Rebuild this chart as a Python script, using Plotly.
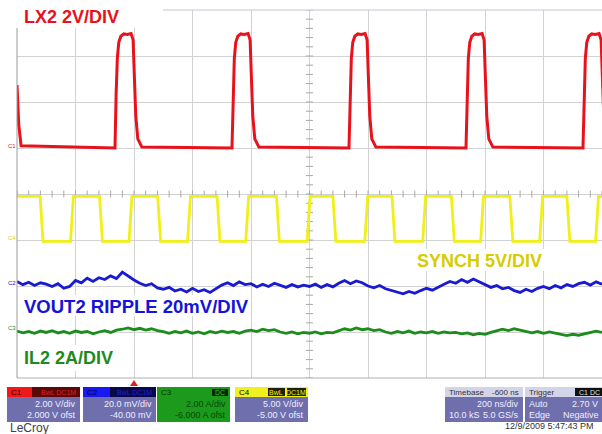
import plotly.graph_objects as go

# ---------------- data (time in ns, 200 ns/div; vertical in screen divisions, 8 div) -------------
t_range = [0, 2000]

# C1 : LX2 switching node (2 V/div)
lx2_start_t = [0, 6, 14]
lx2_start_v = [6.37, 5.5, 5.05]
lx2_rise_ns = [335, 735, 1135, 1535, 1935]
lx2_shape_dt = [0, 4, 8, 13, 20, 30, 42, 55, 62, 66, 71, 78, 92]
lx2_shape_v = [5.0, 6.2, 6.95, 7.3, 7.43, 7.48, 7.47, 7.49, 7.35, 6.6, 5.7, 5.2, 5.02]

# C4 : SYNCH (5 V/div)
synch_high, synch_low = 3.95, 2.97
synch_fall_ns = [79, 282, 481, 684, 887, 1080, 1282, 1485, 1685, 1880]
synch_rise_ns = [183, 383, 583, 782, 992, 1189, 1387, 1585, 1787, 1978]
synch_edge_ns = 10

# C2 : VOUT2 ripple (20 mV/div), sampled every 20 ns
vout_dt_ns = 20
vout_v = [2.10, 2.03, 2.08, 2.01, 2.07, 2.04, 1.99, 2.05, 1.95, 1.99,
          2.12, 2.07, 2.17, 2.10, 2.18, 2.14, 2.22, 2.16, 2.30, 2.21,
          2.13, 2.06, 2.01, 2.05, 1.96, 1.93, 1.97, 1.89, 1.93, 1.87,
          1.95, 1.88, 1.92, 1.86, 1.94, 2.02, 2.07, 2.01, 2.09, 2.03,
          2.05, 1.98, 2.04, 1.99, 2.06, 2.01, 1.97, 2.03, 1.98, 2.02,
          1.99, 2.04, 1.97, 2.03, 1.98, 2.06, 2.12, 2.05, 2.11, 2.07,
          2.00, 1.96, 2.01, 1.94, 1.90, 1.86, 1.83, 1.88, 1.84, 1.90,
          1.95, 1.91, 1.98, 2.04, 2.10, 2.06, 2.14, 2.08, 2.15, 2.09,
          2.02, 1.97, 2.01, 1.94, 1.97, 1.90, 1.86, 1.93, 1.88, 1.95,
          1.99, 1.94, 2.01, 1.96, 2.03, 1.99, 2.05, 2.08, 2.02, 2.09, 2.04]

# C3 : IL2 inductor current (2 A/div), sampled every 20 ns
il2_dt_ns = 20
il2_v = [1.02, 0.98, 1.01, 0.97, 1.02, 0.99, 1.03, 0.98, 1.01, 0.97,
         1.02, 0.99, 1.01, 0.96, 1.00, 1.03, 0.99, 1.04, 1.06, 1.09,
         1.05, 1.08, 1.04, 1.07, 1.03, 1.01, 0.97, 1.01, 0.98, 1.02,
         0.97, 1.00, 0.96, 1.01, 0.98, 1.02, 0.99, 1.01, 0.97, 1.02,
         1.04, 1.01, 1.06, 1.03, 1.05, 1.00, 0.97, 1.00, 0.96, 0.99,
         0.97, 1.00, 0.96, 0.99, 0.98, 1.03, 1.07, 1.04, 1.09, 1.05,
         1.07, 1.03, 1.05, 1.00, 0.97, 1.01, 0.98, 1.02, 0.97, 1.00,
         0.98, 1.01, 0.97, 1.00, 0.98, 0.99, 0.96, 0.98, 0.94, 0.97,
         0.95, 0.99, 1.03, 1.06, 1.03, 1.07, 1.04, 1.01, 0.98, 1.01,
         0.97, 1.00, 0.98, 0.95, 0.92, 0.95, 0.93, 0.96, 0.99, 1.02, 0.99]

# ---------------- build traces ----------------
red_t, red_v = list(lx2_start_t), list(lx2_start_v)
for r in lx2_rise_ns:
    for dt, v in zip(lx2_shape_dt, lx2_shape_v):
        red_t.append(r + dt)
        red_v.append(v)

syn_t, syn_v = [0], [synch_high]
for f, r in zip(synch_fall_ns, synch_rise_ns):
    syn_t += [f, f + synch_edge_ns, r, r + synch_edge_ns]
    syn_v += [synch_high, synch_low, synch_low, synch_high]
syn_t.append(2000)
syn_v.append(synch_high)

vout_t = [i * vout_dt_ns for i in range(len(vout_v))]
il2_t = [i * il2_dt_ns for i in range(len(il2_v))]

RED, YEL, BLU, GRN = "#e8121c", "#f0f018", "#1a1ad0", "#1c8c1c"

fig = go.Figure()
# centre-line minor ticks
fig.add_trace(go.Scatter(x=[i * 40 for i in range(51)], y=[4] * 51, mode="markers",
                         marker=dict(symbol="line-ns-open", size=5, color="#a8a8a8", line=dict(width=1)),
                         hoverinfo="skip", showlegend=False))
fig.add_trace(go.Scatter(x=[1000] * 41, y=[i * 0.2 for i in range(41)], mode="markers",
                         marker=dict(symbol="line-ew-open", size=5, color="#a8a8a8", line=dict(width=1)),
                         hoverinfo="skip", showlegend=False))
fig.add_trace(go.Scatter(x=il2_t, y=il2_v, mode="lines", line=dict(color=GRN, width=2.8), showlegend=False))
fig.add_trace(go.Scatter(x=vout_t, y=vout_v, mode="lines", line=dict(color=BLU, width=2.8), showlegend=False))
fig.add_trace(go.Scatter(x=syn_t, y=syn_v, mode="lines", line=dict(color=YEL, width=2.8), showlegend=False))
fig.add_trace(go.Scatter(x=red_t, y=red_v, mode="lines", line=dict(color=RED, width=3), showlegend=False))

# ---------------- layout helpers (pixel -> paper) ----------------
L, R, T, B = 17, 602, 10, 378


def px(x):
    return (x - L) / (R - L)


def py(y):
    return (B - y) / (B - T)


shapes = []


def rect(x0, y0, x1, y1, color, line=None):
    shapes.append(dict(type="rect", xref="paper", yref="paper", x0=px(x0), x1=px(x1),
                       y0=py(y1), y1=py(y0), fillcolor=color,
                       line=dict(width=0 if line is None else 1, color=line or color), layer="above"))


# plot frame
shapes.append(dict(type="line", xref="paper", yref="paper", x0=0, x1=1, y0=1, y1=1,
                   line=dict(color="#c4c4d4", width=1), layer="above"))
shapes.append(dict(type="line", xref="paper", yref="paper", x0=0, x1=0, y0=0, y1=1,
                   line=dict(color="#9a9a9a", width=1), layer="above"))
shapes.append(dict(type="line", xref="paper", yref="paper", x0=0, x1=1, y0=0, y1=0,
                   line=dict(color="#b0b0b0", width=1), layer="above"))

# white label backgrounds
rect(0, 0, 163, 28, "white")
rect(410, 249, 547, 271, "white")
rect(18, 295, 250, 316, "white")
rect(18, 345, 122, 371, "white")

PURPLE = "#6f6fae"
ann = []


def text(x, y, s, color, size=9, xanchor="left", bold=False, family="Liberation Sans, Arial"):
    ann.append(dict(xref="paper", yref="paper", x=px(x), y=py(y), text=("<b>%s</b>" % s) if bold else s,
                    showarrow=False, xanchor=xanchor, yanchor="middle",
                    font=dict(color=color, size=size, family=family)))


# channel descriptor boxes
# C1
rect(7, 387, 80, 422, PURPLE)
rect(7, 387, 32, 397, "#f01818")
rect(32, 387, 80, 397, "#5a0808")
text(9, 392, "C1", "#300000", 8)
text(78, 392, "BwL DC1M", "#e02020", 7, "right")
text(78, 404, "2.00 V/div", "#eeeeff", 9, "right")
text(78, 415, "2.000 V ofst", "#eeeeff", 9, "right")
# C2
rect(83, 387, 156, 422, PURPLE)
rect(83, 387, 110, 397, "#1818f0")
rect(110, 387, 156, 397, "#08084a")
text(85, 392, "C2", "#000030", 8)
text(154, 392, "BwL DC1M", "#2020d0", 7, "right")
text(154, 404, "20.0 mV/div", "#eeeeff", 9, "right")
text(154, 415, "-40.00 mV", "#eeeeff", 9, "right")
# C3
rect(157, 387, 230, 422, "#1c9a1c")
rect(212, 389, 228, 396, "#062a06")
text(159, 392, "C3", "#063006", 8)
text(227, 392, "DC", "#30c030", 7, "right")
text(228, 404, "2.00 A/div", "#084808", 9, "right")
text(228, 415, "-6.000 A ofst", "#084808", 9, "right")
# C4
rect(235, 387, 308, 422, PURPLE)
rect(235, 387, 308, 397, "#f0f020")
rect(268, 388, 285, 396, "#202008")
rect(287, 388, 306, 396, "#202008")
text(237, 392, "C4", "#000000", 8)
text(276, 392, "BwL", "#f0f020", 7, "center")
text(296, 392, "DC1M", "#f0f020", 7, "center")
text(306, 404, "5.00 V/div", "#eeeeff", 9, "right")
text(306, 415, "-5.00 V ofst", "#eeeeff", 9, "right")
# Timebase
rect(445, 387, 523, 422, PURPLE)
rect(445, 387, 523, 397, "#d4d4e8")
text(447, 392, "Timebase", "#303040", 8)
text(521, 392, "-600 ns", "#303040", 8, "right")
text(521, 404, "200 ns/div", "#eeeeff", 9, "right")
text(447, 415, "10.0 kS", "#eeeeff", 9)
text(521, 415, "5.0 GS/s", "#eeeeff", 9, "right")
# Trigger
rect(525, 387, 606, 422, PURPLE)
rect(525, 387, 606, 397, "#d4d4e8")
rect(575, 388, 604, 396, "#101010")
text(527, 392, "Trigger", "#303040", 8)
text(577, 392, "C1 DC", "#e0e0e0", 7)
text(527, 404, "Auto", "#eeeeff", 9)
text(600, 404, "2.70 V", "#eeeeff", 9, "right")
text(527, 415, "Edge", "#eeeeff", 9)
text(601, 415, "Negative", "#eeeeff", 9, "right")

# trigger position marker
shapes.append(dict(type="path", xref="paper", yref="paper",
                   path="M %f,%f L %f,%f L %f,%f Z" % (px(130), py(386), px(138), py(386), px(134), py(380)),
                   fillcolor="#e02020", line=dict(width=0), layer="above"))

text(8, 428, "LeCroy", "#404048", 12)
text(596, 426, "12/9/2009 5:47:43 PM", "#303038", 9, "right")

# channel markers at left
text(12, 146, "C1", RED, 6, "center")
text(12, 238, "C4", "#d8d010", 6, "center")
text(12, 283, "C2", BLU, 6, "center")
text(12, 328, "C3", GRN, 6, "center")

# waveform labels
text(22, 17, "LX2 2V/DIV", "#e8101a", 18, bold=True)
text(415, 261, "SYNCH 5V/DIV", "#d6cc00", 18, bold=True)
text(22, 306, "VOUT2 RIPPLE 20mV/DIV", "#1414d8", 18.5, bold=True)
text(22, 358, "IL2 2A/DIV", "#1e8a1e", 18, bold=True)

fig.update_layout(
    width=602, height=434,
    margin=dict(l=L, r=602 - R, t=T, b=434 - B),
    paper_bgcolor="white", plot_bgcolor="white",
    xaxis=dict(range=t_range, dtick=200, tick0=0, showgrid=True, gridcolor="#d2d2d2", gridwidth=1,
               showticklabels=False, zeroline=False, showline=False, ticks=""),
    yaxis=dict(range=[0, 8], dtick=1, tick0=0, showgrid=True, gridcolor="#d2d2d2", gridwidth=1,
               showticklabels=False, zeroline=False, showline=False, ticks=""),
    shapes=shapes, annotations=ann, showlegend=False,
)

fig.write_html("out.html", config={"displayModeBar": False},
               post_script="document.body.style.margin='0';document.body.style.overflow='hidden';")
